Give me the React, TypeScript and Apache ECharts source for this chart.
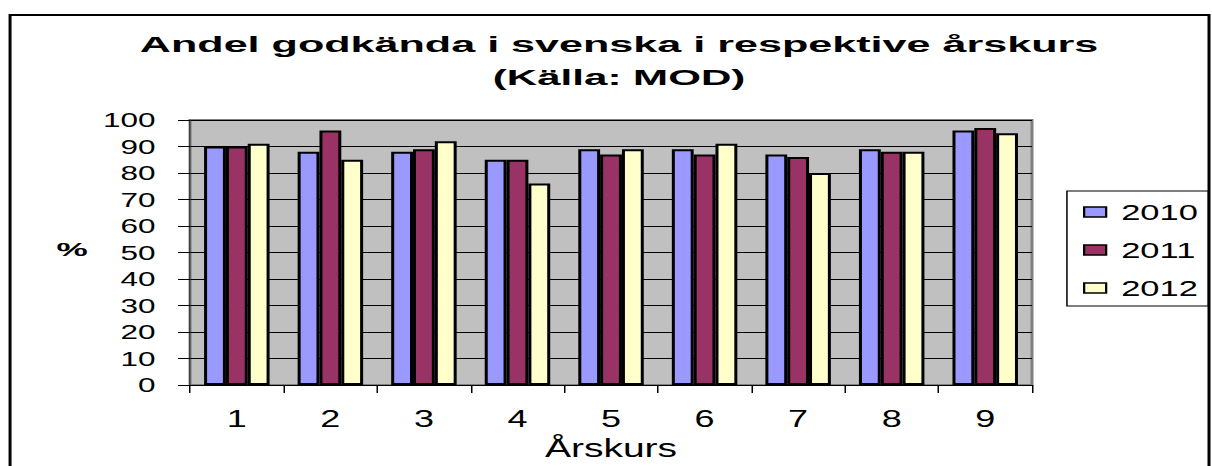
import React, { useEffect, useRef } from "react";
import * as echarts from "echarts";

const categories = ["1", "2", "3", "4", "5", "6", "7", "8", "9"];
const seriesNames = ["2010", "2011", "2012"];
const values2010 = [90, 88, 88, 85, 89, 89, 87, 89, 96];
const values2011 = [90, 96, 89, 85, 87, 87, 86, 88, 97];
const values2012 = [91, 85, 92, 76, 89, 91, 80, 88, 95];
const seriesColors = ["#9999FF", "#993366", "#FFFFCC"];
const titleLine1 = "Andel godkända i svenska i respektive årskurs";
const titleLine2 = "(Källa: MOD)";
const yName = "%";
const xName = "Årskurs";

const SX = 1.5;
const WU = 808;
const FONT = "'Liberation Sans', Arial, sans-serif";

export default function App() {
  const ref = useRef<HTMLDivElement>(null);
  useEffect(() => {
    if (!ref.current) return;
    const chart = echarts.init(ref.current, undefined, { renderer: "svg" });
    const allValues = [values2010, values2011, values2012];
    chart.setOption({
      animation: false,
      backgroundColor: "#ffffff",
      textStyle: { fontFamily: FONT },
      grid: {
        left: 126.7,
        right: 120,
        top: 120,
        bottom: 79,
        show: true,
        backgroundColor: "#C0C0C0",
        borderColor: "#808080",
        borderWidth: 2,
      },
      xAxis: {
        type: "category",
        data: categories,
        name: xName,
        nameLocation: "middle",
        nameGap: 48,
        nameTextStyle: { fontSize: 26, color: "#000", fontFamily: FONT },
        axisLine: { lineStyle: { color: "#000", width: 1 } },
        axisTick: { show: true, length: 8, lineStyle: { color: "#000" } },
        axisLabel: { fontSize: 24, color: "#000", margin: 21, fontFamily: FONT },
        splitLine: { show: false },
      },
      yAxis: {
        type: "value",
        min: 0,
        max: 100,
        interval: 10,
        axisLine: { show: true, lineStyle: { color: "#404040", width: 1 } },
        axisTick: { show: true, length: 8, lineStyle: { color: "#000" } },
        axisLabel: { fontSize: 21, color: "#000", margin: 23, fontFamily: FONT },
        splitLine: { show: true, lineStyle: { color: "#000", width: 1 } },
      },
      legend: {
        orient: "vertical",
        left: 711.3,
        top: 191,
        padding: [9, 7, 6, 10.7],
        itemWidth: 14.7,
        itemHeight: 10,
        itemGap: 14,
        borderColor: "#000",
        borderWidth: 1,
        icon: "rect",
        data: seriesNames,
        itemStyle: { borderColor: "#000", borderWidth: 1.5 },
        textStyle: { fontSize: 23, color: "#000", lineHeight: 24, padding: [0, 0, 0, 5], fontFamily: FONT },
      },
      series: seriesNames.map((name, i) => ({
        name,
        type: "bar",
        data: allValues[i],
        barGap: "0%",
        barCategoryGap: "30%",
        itemStyle: { color: seriesColors[i], borderColor: "#000", borderWidth: 2 },
      })),
      graphic: [
        {
          type: "rect",
          shape: { x: 6.7, y: 15, width: 799.3, height: 480 },
          style: { fill: "none", stroke: "#000", lineWidth: 2 },
          silent: true,
        },
        {
          type: "text",
          x: 412.7,
          y: 44,
          scaleX: 1.25,
          style: {
            text: titleLine1,
            font: `bold 23px ${FONT}`,
            fill: "#000",
            textAlign: "center",
            textVerticalAlign: "middle",
          },
        },
        {
          type: "text",
          x: 412.7,
          y: 77,
          scaleX: 1.22,
          style: {
            text: titleLine2,
            font: `bold 23px ${FONT}`,
            fill: "#000",
            textAlign: "center",
            textVerticalAlign: "middle",
          },
        },
        {
          type: "text",
          x: 48,
          y: 250,
          scaleX: 1.3,
          style: {
            text: yName,
            font: `bold 18px ${FONT}`,
            fill: "#000",
            textAlign: "center",
            textVerticalAlign: "middle",
          },
        },
      ],
    });
    return () => chart.dispose();
  }, []);
  return (
    <div
      style={{
        position: "fixed",
        left: 0,
        top: 0,
        width: 1212,
        height: 466,
        overflow: "hidden",
        background: "#fff",
      }}
    >
      <div
        ref={ref}
        style={{
          width: WU,
          height: 466,
          transform: `scaleX(${SX})`,
          transformOrigin: "0 0",
        }}
      />
    </div>
  );
}
